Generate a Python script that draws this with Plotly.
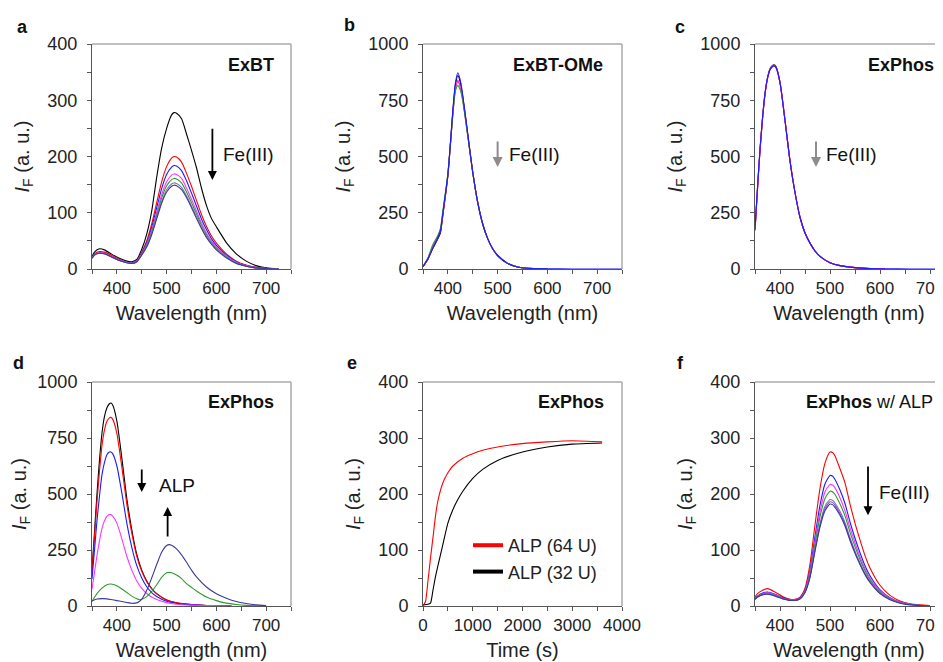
import plotly.graph_objects as go
from plotly.subplots import make_subplots

FONT = "Liberation Sans, Arial, sans-serif"
# the page body adds an 8 px margin, so the figure is 8 px smaller and
# reference pixel positions are shifted by OFF
OFF = 8
W, H = 943 - OFF, 662 - OFF


def px(x):
    return (x - OFF) / W


def py(y):
    return 1 - (y - OFF) / H


BLACK = "#000000"
RED = "#ff0000"
BLUE = "#1a1aff"
MAGENTA = "#ff33ff"
GREEN = "#2e9a2e"
SLATE = "#7a7aa8"
NAVY = "#3a3a9a"

# ---- panel a: ExBT + Fe(III)
wl_a = [350, 355, 365, 375, 390, 405, 420, 430, 440, 450, 460, 470, 480, 490, 500, 510,
        515, 520, 530, 540, 550, 560, 570, 580, 590, 600, 620, 640, 660, 680, 700, 725]
a_black = [22, 30, 36, 34, 26, 19, 14, 13, 17, 35, 62, 103, 163, 215, 250, 274,
           278, 277, 267, 240, 211, 180, 144, 113, 90, 75, 47, 27, 14, 6, 2, 0]
a_red = [20, 27, 31, 30, 24, 17, 12, 11, 15, 30, 50, 80, 118, 155, 182, 197,
         200, 199, 190, 170, 147, 122, 97, 76, 59, 46, 27, 14, 7, 3, 1, 0]
a_blue = [20, 26, 29, 28, 22, 16, 12, 11, 14, 28, 47, 74, 109, 143, 168, 181,
          184, 183, 175, 157, 135, 112, 89, 70, 54, 42, 25, 13, 6, 3, 1, 0]
a_magenta = [20, 26, 29, 28, 22, 16, 12, 11, 14, 27, 44, 69, 101, 132, 155, 167,
             169, 168, 161, 144, 124, 103, 82, 64, 50, 39, 23, 12, 6, 2, 1, 0]
a_green = [19, 25, 28, 27, 21, 15, 11, 10, 13, 26, 42, 66, 96, 126, 148, 159,
           161, 160, 153, 137, 118, 98, 78, 61, 47, 37, 22, 11, 5, 2, 1, 0]
a_slate = [19, 25, 28, 27, 21, 15, 11, 10, 13, 25, 40, 63, 92, 120, 141, 151,
           153, 152, 145, 130, 112, 93, 74, 58, 45, 35, 21, 11, 5, 2, 1, 0]
a_navy = [19, 25, 28, 27, 21, 15, 11, 10, 13, 25, 39, 61, 89, 117, 137, 147,
          149, 148, 141, 127, 109, 90, 72, 56, 44, 34, 20, 10, 5, 2, 1, 0]

# ---- panel b: ExBT-OMe + Fe(III)
wl_b = [350, 360, 370, 380, 385, 390, 400, 410, 415, 420, 425, 430, 440, 450, 460, 470,
        480, 490, 500, 520, 540, 560, 600]
b_black = [10, 45, 92, 135, 160, 240, 415, 700, 815, 860, 830, 765, 598, 430, 296, 200,
           135, 90, 60, 25, 9, 3, 1]
b_red = [10, 45, 95, 140, 165, 245, 415, 690, 800, 835, 810, 755, 595, 430, 296, 200,
         135, 90, 60, 25, 9, 3, 1]
b_magenta = [10, 48, 100, 145, 172, 250, 420, 690, 800, 840, 812, 752, 592, 428, 295, 200,
             135, 90, 60, 25, 9, 3, 1]
b_green = [10, 50, 110, 150, 180, 260, 425, 685, 790, 815, 795, 745, 590, 428, 295, 200,
           135, 90, 60, 25, 9, 3, 1]
wl_b_long = wl_b + [650, 700, 750]
b_blue = [10, 45, 95, 140, 168, 250, 420, 705, 825, 872, 838, 770, 600, 430, 296, 200,
          135, 90, 60, 25, 9, 3, 1, 0, 0, 0]

# ---- panel c: ExPhos + Fe(III)
wl_c = [350, 355, 360, 365, 370, 375, 380, 385, 388, 392, 400, 410, 420, 430, 440, 450,
        460, 470, 480, 500, 520, 550, 580, 610]
c_black = [175, 360, 530, 670, 780, 850, 890, 905, 908, 900, 830, 660, 480, 340, 230, 160,
           115, 80, 56, 28, 15, 6, 2, 1]
c_red = [170, 355, 525, 665, 775, 845, 885, 900, 902, 895, 828, 662, 482, 341, 230, 160,
         115, 80, 56, 28, 15, 6, 2, 1]
c_magenta = [172, 358, 528, 668, 778, 848, 887, 902, 905, 897, 829, 661, 481, 340, 230, 160,
             115, 80, 56, 28, 15, 6, 2, 1]
wl_c_long = wl_c + [660, 726]
c_blue = [178, 362, 532, 670, 779, 848, 886, 900, 903, 896, 829, 660, 480, 340, 230, 160,
          115, 80, 56, 28, 15, 6, 2, 1, 0, 0]

# ---- panel d: ExPhos + ALP
wl_d1 = [350, 355, 360, 365, 370, 375, 380, 385, 388, 392, 400, 410, 420, 430, 440, 450,
         460, 470, 480, 500, 520, 550, 580, 610, 630]
d_black = [160, 330, 500, 650, 770, 845, 885, 903, 906, 895, 825, 660, 480, 340, 230, 160,
           112, 78, 55, 27, 14, 6, 2, 1, 0]
d_red = [150, 310, 465, 600, 715, 785, 825, 840, 842, 832, 770, 620, 455, 325, 222, 155,
         108, 76, 54, 27, 14, 6, 2, 1, 0]
d_blue = [120, 250, 380, 490, 585, 640, 675, 687, 688, 678, 625, 505, 370, 262, 180, 125,
          86, 60, 42, 21, 11, 5, 2, 1, 0]
d_magenta = [75, 150, 225, 290, 345, 380, 400, 408, 408, 400, 370, 300, 222, 160, 112, 79,
             56, 40, 29, 15, 8, 4, 2, 1, 0]
wl_d2 = [350, 360, 370, 380, 388, 400, 410, 420, 430, 440, 445, 450, 460, 470, 480, 490,
         500, 505, 510, 520, 530, 540, 550, 560, 580, 600, 620, 640, 660, 680, 700]
d_green = [21, 55, 80, 95, 98, 90, 76, 60, 44, 32, 28, 30, 42, 65, 95, 128,
           148, 150, 148, 138, 122, 100, 83, 67, 40, 24, 13, 7, 3, 1, 0]
d_navy = [22, 31, 33, 32, 29, 24, 20, 16, 12, 14, 20, 30, 70, 125, 185, 240,
          270, 274, 271, 255, 228, 195, 160, 130, 85, 55, 35, 20, 11, 5, 2]

# ---- panel e: kinetics
t_64 = [0, 50, 100, 150, 200, 250, 300, 400, 500, 600, 800, 1000, 1200, 1500, 2000, 2500, 3000, 3600]
e_64 = [0, 8, 45, 85, 122, 160, 188, 220, 238, 250, 264, 272, 278, 284, 290, 293, 295, 293]
t_32 = [0, 100, 150, 200, 250, 300, 400, 500, 600, 700, 800, 1000, 1200, 1500, 2000, 2500, 3000, 3600]
e_32 = [2, 3, 5, 28, 52, 72, 110, 148, 172, 190, 205, 228, 244, 260, 275, 284, 289, 291]

# ---- panel f: ExPhos w/ ALP + Fe(III)
wl_f = [350, 355, 365, 375, 390, 405, 420, 430, 440, 450, 460, 470, 480, 490, 500, 505,
        510, 520, 530, 540, 550, 560, 570, 580, 600, 620, 640, 660, 680, 700]
f_red = [16, 22, 28, 31, 25, 17, 12, 12, 16, 32, 75, 145, 210, 255, 275, 274,
         268, 245, 220, 182, 148, 118, 90, 68, 37, 19, 9, 4, 2, 1]
f_blue = [14, 18, 23, 25, 21, 15, 11, 11, 14, 28, 64, 124, 180, 218, 233, 232,
          226, 207, 183, 150, 121, 95, 72, 54, 29, 15, 7, 3, 1, 0]
f_magenta = [13, 17, 22, 24, 20, 14, 11, 11, 14, 27, 60, 116, 168, 204, 217, 216,
             211, 193, 170, 140, 113, 88, 67, 50, 27, 14, 7, 3, 1, 0]
f_green = [13, 17, 21, 23, 19, 14, 11, 10, 13, 26, 57, 110, 159, 192, 205, 204,
           199, 182, 161, 132, 106, 83, 63, 47, 25, 13, 6, 3, 1, 0]
f_slate = [12, 16, 20, 22, 18, 13, 10, 10, 13, 25, 53, 102, 147, 178, 190, 189,
           184, 169, 149, 122, 98, 77, 58, 44, 23, 12, 6, 3, 1, 0]
f_purple = [12, 16, 20, 22, 18, 13, 10, 10, 13, 24, 52, 100, 144, 174, 186, 185,
            180, 165, 146, 120, 96, 75, 57, 43, 23, 12, 6, 3, 1, 0]
f_navy = [12, 16, 20, 21, 18, 13, 10, 10, 13, 24, 51, 98, 141, 170, 182, 181,
          176, 162, 143, 117, 94, 74, 56, 42, 22, 11, 5, 2, 1, 0]


fig = make_subplots(rows=2, cols=3)


def add_line(x, y, color, row, col, width=1.1):
    fig.add_trace(go.Scatter(x=x, y=y, mode="lines", showlegend=False, hoverinfo="skip",
                             line=dict(color=color, width=width, shape="spline", smoothing=0.6)),
                  row=row, col=col)


for ys, c in [(a_black, BLACK), (a_red, RED), (a_blue, BLUE), (a_magenta, MAGENTA),
              (a_green, GREEN), (a_slate, SLATE), (a_navy, NAVY)]:
    add_line(wl_a, ys, c, 1, 1)

for ys, c in [(b_black, BLACK), (b_red, RED), (b_magenta, MAGENTA), (b_green, GREEN)]:
    add_line(wl_b, ys, c, 1, 2)
add_line(wl_b_long, b_blue, BLUE, 1, 2)

for ys, c in [(c_black, BLACK), (c_red, RED), (c_magenta, MAGENTA)]:
    add_line(wl_c, ys, c, 1, 3)
add_line(wl_c_long, c_blue, BLUE, 1, 3)

for ys, c in [(d_black, BLACK), (d_red, RED), (d_blue, BLUE), (d_magenta, MAGENTA)]:
    add_line(wl_d1, ys, c, 2, 1)
add_line(wl_d2, d_green, GREEN, 2, 1)
add_line(wl_d2, d_navy, NAVY, 2, 1)

add_line(t_32, e_32, BLACK, 2, 2)
add_line(t_64, e_64, RED, 2, 2)
# legend entries (thick sample lines)
for name, c in [("ALP (64 U)", RED), ("ALP (32 U)", BLACK)]:
    fig.add_trace(go.Scatter(x=[None], y=[None], mode="lines", name=name,
                             line=dict(color=c, width=4)), row=2, col=2)

for ys, c in [(f_red, RED), (f_blue, BLUE), (f_magenta, MAGENTA), (f_green, GREEN),
              (f_slate, SLATE), (f_purple, "#8a4ad8"), (f_navy, NAVY)]:
    add_line(wl_f, ys, c, 2, 3)

# ---- axes
col_dom = [[px(92), px(291)], [px(423), px(622)], [px(755), 1.0]]
row_dom = [[py(269), py(44)], [py(606), py(382)]]
AXC = "#555555"
xtickfont = dict(family=FONT, size=17, color="#222")
ytickfont = dict(family=FONT, size=18, color="#222")
titlefont = dict(family=FONT, size=20, color="#222")

panels = {
    (1, 1): dict(xr=[350, 750], yr=[0, 400], xd=100, yd=100, xt="Wavelength (nm)"),
    (1, 2): dict(xr=[350, 750], yr=[0, 1000], xd=100, yd=250, xt="Wavelength (nm)"),
    (1, 3): dict(xr=[350, 726], yr=[0, 1000], xd=100, yd=250, xt="Wavelength (nm)"),
    (2, 1): dict(xr=[350, 750], yr=[0, 1000], xd=100, yd=250, xt="Wavelength (nm)"),
    (2, 2): dict(xr=[0, 4000], yr=[0, 400], xd=1000, yd=100, xt="Time (s)"),
    (2, 3): dict(xr=[350, 726], yr=[0, 400], xd=100, yd=100, xt="Wavelength (nm)"),
}

for (r, c), p in panels.items():
    fig.update_xaxes(domain=col_dom[c - 1], range=p["xr"], dtick=p["xd"], tick0=0,
                     showline=True, linecolor=AXC, linewidth=1, mirror=False, automargin=False,
                     ticks="outside", ticklen=4, tickcolor=AXC, ticklabeloverflow="allow",
                     minor=dict(ticks="outside", ticklen=4, dtick=p["xd"] / 2, tickcolor=AXC),
                     showgrid=False, zeroline=False, tickfont=xtickfont,
                     title=dict(text=p["xt"], font=titlefont, standoff=8),
                     row=r, col=c)
    fig.update_yaxes(domain=row_dom[r - 1], range=p["yr"], dtick=p["yd"], tick0=0,
                     showline=True, linecolor=AXC, linewidth=1, mirror=False, automargin=False,
                     ticks="outside", ticklen=4, tickcolor=AXC,
                     minor=dict(ticks="outside", ticklen=4, dtick=p["yd"] / 2, tickcolor=AXC),
                     showgrid=False, zeroline=False, tickfont=ytickfont, ticklabelstandoff=6,
                     title=dict(text="<i>I</i><sub>F</sub> (a. u.)", font=titlefont, standoff=12),
                     row=r, col=c)

# grey frame (top and right edges)
for i in range(1, 7):
    xa = "x" if i == 1 else f"x{i}"
    ya = "y" if i == 1 else f"y{i}"
    fig.add_shape(type="line", xref=f"{xa} domain", yref=f"{ya} domain",
                  x0=0, x1=1, y0=1, y1=1, line=dict(color="#aaaaaa", width=1.5))
    if i not in (3, 6):
        fig.add_shape(type="line", xref=f"{xa} domain", yref=f"{ya} domain",
                      x0=1, x1=1, y0=0, y1=1, line=dict(color="#aaaaaa", width=1.5))

# ---- panel letters
for txt, lx, ly in [("a", 22, 27), ("b", 349, 25), ("c", 680, 27),
                    ("d", 18, 363), ("e", 352, 363), ("f", 680, 363)]:
    fig.add_annotation(text=f"<b>{txt}</b>", xref="paper", yref="paper", x=px(lx), y=py(ly),
                       xanchor="center", yanchor="middle",
                       showarrow=False, font=dict(family=FONT, size=18, color="#111"))


# ---- in-panel labels
def label(text, x, y, ax_i, anchor="right", size=18, color="#111"):
    xa = "x" if ax_i == 1 else f"x{ax_i}"
    ya = "y" if ax_i == 1 else f"y{ax_i}"
    fig.add_annotation(text=text, x=x, y=y, xref=xa, yref=ya, xanchor=anchor, yanchor="middle",
                       showarrow=False, font=dict(family=FONT, size=size, color=color))


def arrow(x, y0, y1, ax_i, color="black", width=1.8):
    xa = "x" if ax_i == 1 else f"x{ax_i}"
    ya = "y" if ax_i == 1 else f"y{ax_i}"
    fig.add_annotation(text="", x=x, y=y1, ax=x, ay=y0, xref=xa, yref=ya, axref=xa, ayref=ya,
                       showarrow=True, arrowhead=2, arrowsize=1, arrowwidth=width,
                       arrowcolor=color)


label("<b>ExBT</b>", 720, 363, 1)
arrow(592, 252, 158, 1)
label("Fe(III)", 610, 203, 1, anchor="left", size=19)

label("<b>ExBT-OMe</b>", 716, 907, 2)
arrow(500, 573, 453, 2, color="#8c8c8c", width=2)
label("Fe(III)", 518, 507, 2, anchor="left", size=19)

label("<b>ExPhos</b>", 712, 907, 3)
arrow(472, 573, 453, 3, color="#8c8c8c", width=2)
label("Fe(III)", 488, 507, 3, anchor="left", size=19)

label("<b>ExPhos</b>", 720, 911, 4)
arrow(450, 616, 509, 4)
label("ALP", 480, 540, 4, anchor="left", size=19)
arrow(502, 304, 442, 4)

label("<b>ExPhos</b>", 3680, 364, 5)

label("<b>ExPhos</b> w/ ALP", 710, 364, 6)
arrow(576, 252, 162, 6)
label("Fe(III)", 594, 202, 6, anchor="left", size=19)

fig.update_layout(
    width=W, height=H,
    margin=dict(l=0, r=0, t=0, b=0),
    paper_bgcolor="white", plot_bgcolor="white",
    font=dict(family=FONT, color="#222"),
    showlegend=True,
    legend=dict(x=px(468), y=py(527), xanchor="left", yanchor="top",
                bgcolor="rgba(0,0,0,0)", font=dict(family=FONT, size=18, color="#222"),
                itemwidth=30, tracegroupgap=2),
)

fig.write_html("out.html")
